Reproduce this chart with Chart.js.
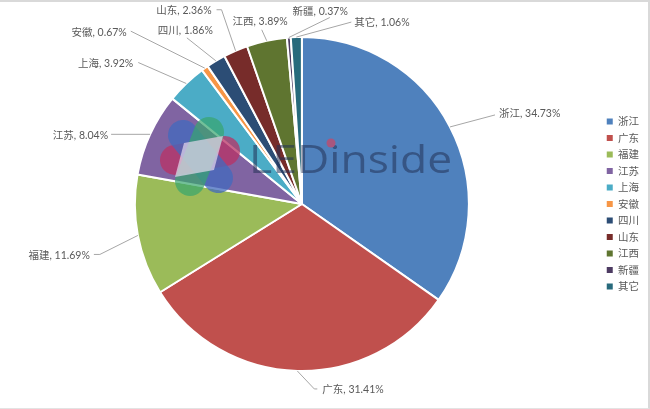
<!DOCTYPE html>
<html lang="zh">
  <head>
    <meta charset="UTF-8" />
    <title>LED regions</title>
    <script src="https://cdn.jsdelivr.net/npm/chart.js"></script>
    <style>
      html, body { margin: 0; padding: 0; background: #fff; }
      #wrap { position: relative; width: 650px; height: 409px; overflow: hidden; }
      #frame { position: absolute; left: 0; top: 0; right: 0; bottom: 0; border-top: 2px solid #d9d9d9; border-right: 2px solid #d9d9d9; border-bottom: 1px solid #e3e3e3; }
    </style>
  </head>
  <body>
    <div id="wrap"><canvas id="pie" width="650" height="409"></canvas><div id="frame"></div></div>
    <script>
      const regions = ["浙江", "广东", "福建", "江苏", "上海", "安徽", "四川", "山东", "江西", "新疆", "其它"];
      const shares = [34.73, 31.41, 11.69, 8.04, 3.92, 0.67, 1.86, 2.36, 3.89, 0.37, 1.06];
      const colors = ["#4F81BD", "#C0504D", "#9BBB59", "#8064A2", "#4BACC6", "#F79646", "#2C4D75", "#772C2A", "#5F7530", "#4D3B62", "#276A7C"];

      // leader line end and label anchor, relative to the slice's outer midpoint
      const labelPlacement = [
        { line: [[45, -12]], text: [49, -13], align: "left" },
        { line: [[17, 18], [20, 18]], text: [25, 19], align: "left" },
        { line: [[-38, 19], [-44, 19]], text: [-48, 20], align: "right" },
        { line: [[-39, 0]], text: [-42, 1], align: "right" },
        { line: [[-48, -21]], text: [-53, -20], align: "right" },
        { line: [[-74, -37]], text: [-78, -36], align: "right" },
        { line: [[-29, -23]], text: [-3, -30], align: "right" },
        { line: [[-14, -41], [-19, -41]], text: [-24, -40], align: "right" },
        { line: [[-5, -11]], text: [21, -19], align: "right" },
        { line: [[41, -20]], text: [59, -26], align: "right" },
        { line: [[55, -15]], text: [58, -14], align: "left" },
      ];

      const sliceLabels = {
        id: "sliceLabels",
        afterDatasetsDraw(chart) {
          const ctx = chart.ctx;
          const arcs = chart.getDatasetMeta(0).data;
          ctx.save();
          ctx.font = '10.5px Lato, "Noto Sans CJK SC", sans-serif';
          ctx.textBaseline = "middle";
          arcs.forEach((arc, i) => {
            const mid = (arc.startAngle + arc.endAngle) / 2;
            const x = arc.x + Math.cos(mid) * arc.outerRadius;
            const y = arc.y + Math.sin(mid) * arc.outerRadius;
            const place = labelPlacement[i];
            ctx.strokeStyle = "#a6a6a6";
            ctx.lineWidth = 1;
            ctx.beginPath();
            ctx.moveTo(x, y);
            place.line.forEach((p) => ctx.lineTo(x + p[0], y + p[1]));
            ctx.stroke();
            ctx.fillStyle = "#595959";
            ctx.textAlign = place.align;
            ctx.fillText(regions[i] + ", " + shares[i].toFixed(2) + "%", x + place.text[0], y + place.text[1]);
          });
          ctx.restore();
        },
      };

      // the LEDinside watermark over the pie
      const watermark = {
        id: "watermark",
        afterDatasetsDraw(chart) {
          const ctx = chart.ctx;
          const bands = [
            [175, 160, 225, 151, 30, "rgba(185,50,100,0.75)"],
            [183, 135, 218, 178, 30, "rgba(65,105,190,0.75)"],
            [209, 132, 190, 181, 30, "rgba(55,165,110,0.7)"],
          ];
          ctx.save();
          ctx.lineCap = "round";
          bands.forEach((b) => {
            ctx.strokeStyle = b[5];
            ctx.lineWidth = b[4];
            ctx.beginPath();
            ctx.moveTo(b[0], b[1]);
            ctx.lineTo(b[2], b[3]);
            ctx.stroke();
          });
          ctx.fillStyle = "rgba(225,215,235,0.72)";
          ctx.beginPath();
          ctx.moveTo(184, 143);
          ctx.lineTo(223, 136);
          ctx.lineTo(214, 170);
          ctx.lineTo(175, 177);
          ctx.closePath();
          ctx.fill();
          ctx.translate(249, 172.5);
          ctx.scale(1.14, 1);
          ctx.fillStyle = "rgba(35,50,85,0.55)";
          ctx.font = '39px "Open Sans", sans-serif';
          ctx.textAlign = "left";
          ctx.textBaseline = "alphabetic";
          ctx.fillText("LEDinside", 0, 0);
          ctx.setTransform(chart.currentDevicePixelRatio, 0, 0, chart.currentDevicePixelRatio, 0, 0);
          ctx.fillStyle = "#a8567e";
          ctx.beginPath();
          ctx.arc(331, 143, 4.5, 0, Math.PI * 2);
          ctx.fill();
          ctx.restore();
        },
      };

      new Chart(document.getElementById("pie"), {
        type: "pie",
        data: {
          labels: regions,
          datasets: [{ data: shares, backgroundColor: colors, borderColor: "#fff", borderWidth: 2 }],
        },
        options: {
          responsive: false,
          animation: false,
          layout: { padding: { left: 3, top: 36, bottom: 37, right: 1 } },
          plugins: {
            tooltip: { enabled: false },
            legend: {
              position: "right",
              labels: {
                boxWidth: 6,
                boxHeight: 6,
                padding: 6,
                color: "#595959",
                font: { size: 10.5, family: '"Noto Sans CJK SC", sans-serif' },
                generateLabels(chart) {
                  return regions.map((name, i) => ({
                    text: name,
                    fillStyle: colors[i],
                    strokeStyle: colors[i],
                    fontColor: "#595959",
                    lineWidth: 0,
                    index: i,
                  }));
                },
              },
            },
          },
        },
        plugins: [watermark, sliceLabels],
      });
    </script>
  </body>
</html>
